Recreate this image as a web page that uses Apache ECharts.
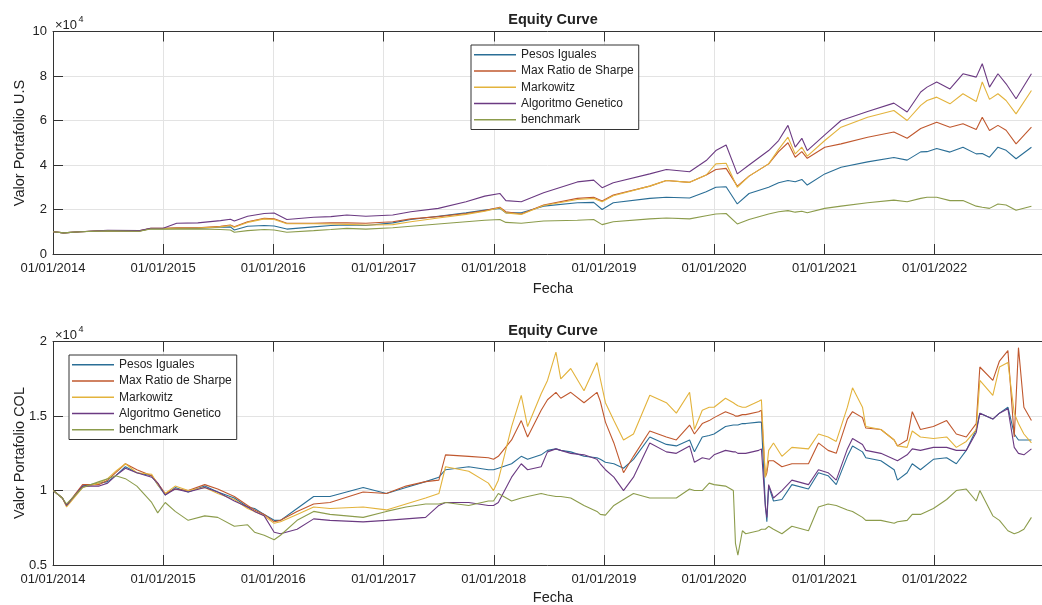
<!DOCTYPE html>
<html>
<head>
<meta charset="utf-8">
<script src="https://cdn.jsdelivr.net/npm/echarts@6/dist/echarts.min.js"></script>
<style>
  html, body { margin: 0; padding: 0; background: #fff; }
  #chart { width: 1042px; height: 605px; }
</style>
</head>
<body>
<div id="chart"></div>
<script>
// Portfolio names, shared by both panels
const seriesNames = ['Pesos Iguales', 'Max Ratio de Sharpe', 'Markowitz', 'Algoritmo Genetico', 'benchmark'];
const seriesColors = ['#2a6e96', '#c0582e', '#e3b33c', '#6b3a82', '#8c9c4c'];

// ---- U.S. portfolio (values in units of 10^4) ----
const usDates = [
  '2014-01-02','2014-02-05','2014-04-01','2014-07-01','2014-10-15','2014-11-20','2015-01-01','2015-02-15','2015-04-26','2015-07-10',
  '2015-08-12','2015-08-25','2015-10-08','2015-12-02','2016-01-04','2016-02-15','2016-05-14','2016-07-10','2016-09-01','2016-11-03',
  '2017-01-31','2017-04-01','2017-07-01','2017-10-01','2017-12-02','2018-01-21','2018-02-10','2018-04-02','2018-06-15','2018-10-05',
  '2018-11-28','2018-12-26','2019-02-01','2019-06-02','2019-07-27','2019-10-12','2019-12-06','2020-01-07','2020-02-10','2020-03-18',
  '2020-04-26','2020-06-30','2020-08-02','2020-09-02','2020-09-26','2020-10-18','2020-11-05','2021-01-02','2021-02-25','2021-05-24',
  '2021-08-19','2021-10-02','2021-11-16','2021-12-07','2022-01-08','2022-02-21','2022-04-05','2022-05-19','2022-06-08','2022-07-02',
  '2022-07-30','2022-08-26','2022-09-28','2022-11-18'];
const usPesosIguales = [
  1.00,0.95,1.00,1.05,1.03,1.14,1.14,1.15,1.16,1.20,
  1.22,1.08,1.25,1.28,1.26,1.12,1.22,1.28,1.30,1.28,
  1.40,1.55,1.70,1.85,1.97,2.05,1.85,1.85,2.15,2.30,
  2.32,2.00,2.30,2.50,2.55,2.52,2.80,3.00,3.02,2.25,
  2.72,3.00,3.20,3.30,3.25,3.35,3.10,3.60,3.90,4.14,
  4.34,4.22,4.59,4.60,4.74,4.58,4.80,4.50,4.52,4.35,
  4.80,4.66,4.28,4.80];
const usMaxSharpe = [
  1.00,0.95,1.00,1.05,1.04,1.15,1.15,1.18,1.18,1.25,
  1.30,1.22,1.45,1.60,1.58,1.38,1.38,1.40,1.40,1.38,
  1.45,1.58,1.68,1.82,1.95,2.10,1.90,1.80,2.20,2.50,
  2.55,2.38,2.65,3.05,3.30,3.22,3.55,3.80,3.85,3.05,
  3.50,4.05,4.60,5.00,4.35,4.60,4.30,4.80,4.95,5.25,
  5.48,5.20,5.64,5.75,5.92,5.70,5.85,5.60,6.15,5.55,
  5.78,5.56,4.95,5.70];
const usMarkowitz = [
  1.00,0.95,1.00,1.05,1.04,1.14,1.14,1.16,1.17,1.22,
  1.28,1.20,1.42,1.58,1.55,1.36,1.36,1.35,1.33,1.30,
  1.32,1.45,1.62,1.78,1.92,2.08,1.85,1.78,2.18,2.45,
  2.50,2.35,2.62,3.05,3.30,3.22,3.55,4.05,4.08,3.00,
  3.50,4.05,4.70,5.25,4.50,4.80,4.40,5.10,5.70,6.15,
  6.45,6.00,6.68,6.90,7.05,6.75,7.20,6.85,7.73,6.95,
  7.20,6.90,6.30,7.35];
const usGenetico = [
  1.00,0.95,1.00,1.06,1.05,1.16,1.16,1.38,1.40,1.50,
  1.56,1.48,1.70,1.82,1.84,1.55,1.65,1.68,1.75,1.70,
  1.75,1.90,2.05,2.35,2.60,2.72,2.40,2.35,2.75,3.24,
  3.32,2.98,3.20,3.60,3.80,3.70,4.20,4.65,4.90,3.60,
  4.00,4.65,5.10,5.78,4.80,5.20,4.65,5.35,6.00,6.40,
  6.78,6.38,7.28,7.50,7.73,7.42,8.10,7.95,8.55,7.50,
  8.10,7.65,6.98,8.10];
const usBenchmark = [
  1.00,0.95,1.00,1.04,1.02,1.12,1.12,1.12,1.13,1.10,
  1.08,0.98,1.05,1.10,1.08,0.98,1.05,1.10,1.15,1.12,
  1.18,1.25,1.35,1.45,1.52,1.55,1.42,1.38,1.48,1.52,
  1.55,1.32,1.45,1.58,1.62,1.58,1.72,1.80,1.82,1.35,
  1.55,1.80,1.90,1.95,1.88,1.92,1.85,2.05,2.15,2.30,
  2.42,2.35,2.50,2.55,2.55,2.40,2.40,2.15,2.10,2.05,
  2.25,2.20,1.97,2.15];

// ---- Colombian portfolio (values in units of 10^4) ----
const colDates = [
  '2014-01-02','2014-02-01','2014-02-15','2014-04-09','2014-06-03','2014-07-01','2014-07-28','2014-08-29','2014-10-06','2014-11-24',
  '2014-12-14','2015-01-08','2015-02-10','2015-03-25','2015-05-19','2015-07-01','2015-08-25','2015-10-08','2015-10-31','2015-12-02',
  '2016-01-04','2016-01-25','2016-03-20','2016-05-14','2016-07-07','2016-10-25','2017-01-10','2017-03-16','2017-05-20','2017-07-03',
  '2017-07-25','2017-10-10','2017-12-14','2017-12-31','2018-01-16','2018-03-01','2018-04-02','2018-04-23','2018-06-07','2018-06-28',
  '2018-07-26','2018-08-11','2018-09-13','2018-10-27','2018-12-09','2018-12-20','2019-01-06','2019-02-03','2019-03-07','2019-04-09',
  '2019-06-02','2019-07-27','2019-08-29','2019-10-12','2019-10-28','2019-11-23','2019-12-16','2020-01-01','2020-02-08','2020-03-05',
  '2020-03-12','2020-03-20','2020-04-04','2020-04-15','2020-05-28','2020-06-06','2020-06-19','2020-06-24','2020-06-30','2020-07-16',
  '2020-08-13','2020-09-15','2020-11-09','2020-12-12','2021-01-13','2021-02-09','2021-03-18','2021-04-04','2021-05-07','2021-05-18',
  '2021-07-07','2021-08-20','2021-08-31','2021-10-02','2021-10-19','2021-11-15','2021-12-28','2022-02-10','2022-03-14','2022-04-16',
  '2022-05-19','2022-05-31','2022-07-13','2022-08-04','2022-09-01','2022-09-22','2022-10-06','2022-10-24','2022-11-18'];
const colPesosIguales = [
  1.00,0.95,0.90,1.03,1.05,1.06,1.10,1.16,1.12,1.10,
  1.04,0.97,1.02,0.99,1.03,0.99,0.95,0.89,0.88,0.84,
  0.80,0.80,0.88,0.96,0.96,1.02,0.98,1.02,1.06,1.09,
  1.14,1.16,1.14,1.14,1.15,1.18,1.23,1.21,1.24,1.27,
  1.28,1.27,1.26,1.23,1.22,1.21,1.19,1.18,1.15,1.21,
  1.36,1.31,1.30,1.34,1.26,1.36,1.37,1.38,1.43,1.44,
  1.44,1.44,1.45,1.45,1.46,1.46,0.91,0.79,1.03,0.93,
  0.94,1.04,1.01,1.12,1.10,1.04,1.23,1.30,1.26,1.22,
  1.20,1.14,1.07,1.12,1.18,1.14,1.21,1.22,1.18,1.27,
  1.41,1.52,1.48,1.52,1.56,1.38,1.34,1.34,1.34];
const colMaxSharpe = [
  1.00,0.95,0.90,1.04,1.04,1.07,1.12,1.18,1.14,1.10,
  1.05,0.98,1.01,1.00,1.04,1.01,0.96,0.90,0.87,0.84,
  0.79,0.80,0.86,0.91,0.92,0.99,0.98,1.03,1.06,1.07,
  1.24,1.23,1.22,1.21,1.23,1.34,1.47,1.36,1.54,1.61,
  1.66,1.62,1.66,1.59,1.66,1.60,1.46,1.32,1.12,1.23,
  1.40,1.36,1.34,1.44,1.38,1.45,1.47,1.49,1.53,1.51,
  1.50,1.50,1.51,1.51,1.53,1.54,1.09,1.12,1.20,1.20,
  1.16,1.18,1.18,1.32,1.27,1.25,1.48,1.53,1.49,1.42,
  1.41,1.34,1.30,1.34,1.53,1.41,1.43,1.47,1.38,1.36,
  1.45,1.83,1.74,1.87,1.94,1.36,1.96,1.56,1.47];
const colMarkowitz = [
  1.00,0.95,0.89,1.02,1.05,1.08,1.13,1.18,1.12,1.11,
  1.04,0.98,1.03,1.00,1.02,0.98,0.94,0.88,0.86,0.83,
  0.78,0.79,0.84,0.89,0.88,0.89,0.87,0.91,0.95,0.98,
  1.16,1.13,1.05,1.00,1.07,1.43,1.64,1.43,1.65,1.74,
  1.93,1.75,1.82,1.67,1.86,1.75,1.59,1.47,1.34,1.38,
  1.64,1.59,1.52,1.66,1.41,1.54,1.56,1.56,1.62,1.59,
  1.58,1.57,1.56,1.56,1.60,1.61,1.09,1.15,1.27,1.32,
  1.23,1.29,1.28,1.38,1.36,1.33,1.56,1.69,1.56,1.43,
  1.41,1.34,1.30,1.29,1.40,1.36,1.35,1.36,1.29,1.33,
  1.41,1.74,1.64,1.83,1.86,1.52,1.45,1.38,1.32];
const colGenetico = [
  1.00,0.95,0.90,1.03,1.03,1.05,1.10,1.15,1.12,1.09,
  1.05,0.97,1.01,0.99,1.02,0.99,0.93,0.89,0.86,0.83,
  0.72,0.71,0.74,0.81,0.80,0.79,0.80,0.81,0.82,0.90,
  0.92,0.92,0.90,0.90,0.92,1.09,1.18,1.14,1.16,1.26,
  1.28,1.27,1.25,1.24,1.21,1.18,1.14,1.09,1.00,1.09,
  1.32,1.26,1.25,1.30,1.19,1.22,1.21,1.24,1.27,1.26,
  1.26,1.25,1.25,1.25,1.27,1.28,0.89,0.82,1.04,0.95,
  1.00,1.07,1.04,1.14,1.12,1.07,1.28,1.35,1.31,1.27,
  1.25,1.21,1.20,1.24,1.28,1.27,1.29,1.29,1.27,1.27,
  1.39,1.52,1.48,1.52,1.55,1.29,1.25,1.24,1.28];
const colBenchmark = [
  1.00,0.95,0.91,1.02,1.06,1.08,1.10,1.08,1.03,0.92,
  0.85,0.92,0.86,0.80,0.83,0.82,0.76,0.77,0.72,0.70,
  0.67,0.70,0.80,0.86,0.84,0.82,0.86,0.89,0.91,0.91,
  0.92,0.90,0.93,0.93,0.98,0.93,0.95,0.96,0.98,0.97,
  0.96,0.96,0.95,0.90,0.86,0.84,0.835,0.90,0.94,0.98,
  0.95,0.95,0.95,1.01,1.00,1.00,1.05,1.04,1.03,1.00,
  0.645,0.567,0.73,0.71,0.73,0.74,0.74,0.75,0.76,0.74,
  0.71,0.76,0.73,0.89,0.91,0.90,0.87,0.86,0.82,0.80,
  0.80,0.78,0.79,0.80,0.84,0.84,0.88,0.94,1.00,1.01,
  0.93,1.00,0.83,0.80,0.73,0.71,0.72,0.74,0.82];

// Year tick labels in dd/mm/yyyy form
const xTickFormat = (v) => {
  const d = new Date(v);
  const p = (n) => String(n).padStart(2, '0');
  return p(d.getDate()) + '/' + p(d.getMonth() + 1) + '/' + d.getFullYear();
};
const usYTicks = ['0', '2', '4', '6', '8', '10'];
const colYTicks = ['0.5', '1', '1.5', '2'];

const FONT = "'Liberation Sans', Arial, Helvetica, sans-serif";
const AXIS_COLOR = '#333';
const GRID_COLOR = '#e3e3e3';
const X_MIN = +new Date(2014, 0, 1);
const X_MAX = +new Date(2022, 11, 23);
const YEAR_MS = 365 * 24 * 3600 * 1000;

function bottomXAxis(gridIndex) {
  return {
    type: 'time', gridIndex, min: X_MIN, max: X_MAX,
    minInterval: YEAR_MS, maxInterval: YEAR_MS + 24 * 3600 * 1000,
    axisLine: { show: true, lineStyle: { color: AXIS_COLOR, width: 1 } },
    axisTick: { show: true, inside: true, length: 10, lineStyle: { color: AXIS_COLOR } },
    axisLabel: { formatter: xTickFormat, fontSize: 13, fontFamily: FONT, color: '#222', margin: 8, showMinLabel: true },
    splitLine: { show: true, lineStyle: { color: GRID_COLOR, width: 1 } }
  };
}
function topXAxis(gridIndex) {
  return {
    type: 'time', gridIndex, position: 'top', min: X_MIN, max: X_MAX,
    minInterval: YEAR_MS, maxInterval: YEAR_MS + 24 * 3600 * 1000,
    axisLine: { show: true, lineStyle: { color: AXIS_COLOR, width: 1 } },
    axisTick: { show: true, inside: true, length: 10, lineStyle: { color: AXIS_COLOR } },
    axisLabel: { show: false },
    splitLine: { show: false }
  };
}
function yAxisOf(gridIndex, min, max, interval, labels) {
  return {
    type: 'value', gridIndex, min, max, interval,
    axisLine: { show: true, lineStyle: { color: AXIS_COLOR, width: 1 } },
    axisTick: { show: true, inside: true, length: 10, lineStyle: { color: AXIS_COLOR } },
    axisLabel: {
      fontSize: 13, fontFamily: FONT, color: '#222', margin: 6,
      formatter: (v) => labels[Math.round((v - min) / interval)]
    },
    splitLine: { show: true, lineStyle: { color: GRID_COLOR, width: 1 } }
  };
}
function legendAt(left, top) {
  return {
    data: seriesNames, orient: 'vertical', left, top,
    icon: 'rect', itemWidth: 42, itemHeight: 1.5, itemGap: 3,
    padding: [3, 5, 3, 3],
    borderColor: '#333', borderWidth: 1, backgroundColor: '#fff',
    textStyle: { fontSize: 12, fontFamily: FONT, color: '#222', lineHeight: 13.3 },
    selectedMode: false
  };
}
function makeSeries(dates, valueLists, axisIndex) {
  return valueLists.map((vals, k) => ({
    name: seriesNames[k], type: 'line',
    xAxisIndex: axisIndex, yAxisIndex: axisIndex,
    data: dates.map((d, i) => [d, vals[i]]),
    showSymbol: false, symbol: 'none',
    color: seriesColors[k],
    lineStyle: { width: 1.1, color: seriesColors[k] },
    emphasis: { disabled: true }
  }));
}

function label(text, x, y, size, opts = {}) {
  return {
    type: 'text', x, y, rotation: opts.rotation || 0, silent: true,
    style: {
      text, fill: '#222', font: (opts.bold ? 'bold ' : '') + size + 'px ' + FONT,
      textAlign: opts.align || 'center', textVerticalAlign: 'middle'
    }
  };
}

const chart = echarts.init(document.getElementById('chart'), null, { renderer: 'canvas' });
chart.setOption({
  animation: false,
  backgroundColor: '#fff',
  grid: [
    { left: 53, top: 31.5, width: 1000, height: 222.5 },
    { left: 53, top: 341.7, width: 1000, height: 223.3 }
  ],
  xAxis: [bottomXAxis(0), bottomXAxis(1), topXAxis(0), topXAxis(1)],
  yAxis: [
    yAxisOf(0, 0, 10, 2, usYTicks),
    yAxisOf(1, 0.5, 2, 0.5, colYTicks)
  ],
  legend: [legendAt(471, 45), legendAt(69, 355)],
  series: [
    ...makeSeries(usDates, [usPesosIguales, usMaxSharpe, usMarkowitz, usGenetico, usBenchmark], 0),
    ...makeSeries(colDates, [colPesosIguales, colMaxSharpe, colMarkowitz, colGenetico, colBenchmark], 1)
  ],
  graphic: [
    label('Equity Curve', 553, 20, 14.5, { bold: true }),
    label('Equity Curve', 553, 331, 14.5, { bold: true }),
    label('Fecha', 553, 289, 14.5),
    label('Fecha', 553, 598, 14.5),
    label('Valor Portafolio U.S', 19.5, 143, 14.5, { rotation: Math.PI / 2 }),
    label('Valor Portafolio COL', 19.5, 453, 14.5, { rotation: Math.PI / 2 }),
    label('×10', 55, 25, 13, { align: 'left' }),
    label('4', 78.5, 20, 9, { align: 'left' }),
    label('×10', 55, 335, 13, { align: 'left' }),
    label('4', 78.5, 330, 9, { align: 'left' })
  ]
});
</script>
</body>
</html>
